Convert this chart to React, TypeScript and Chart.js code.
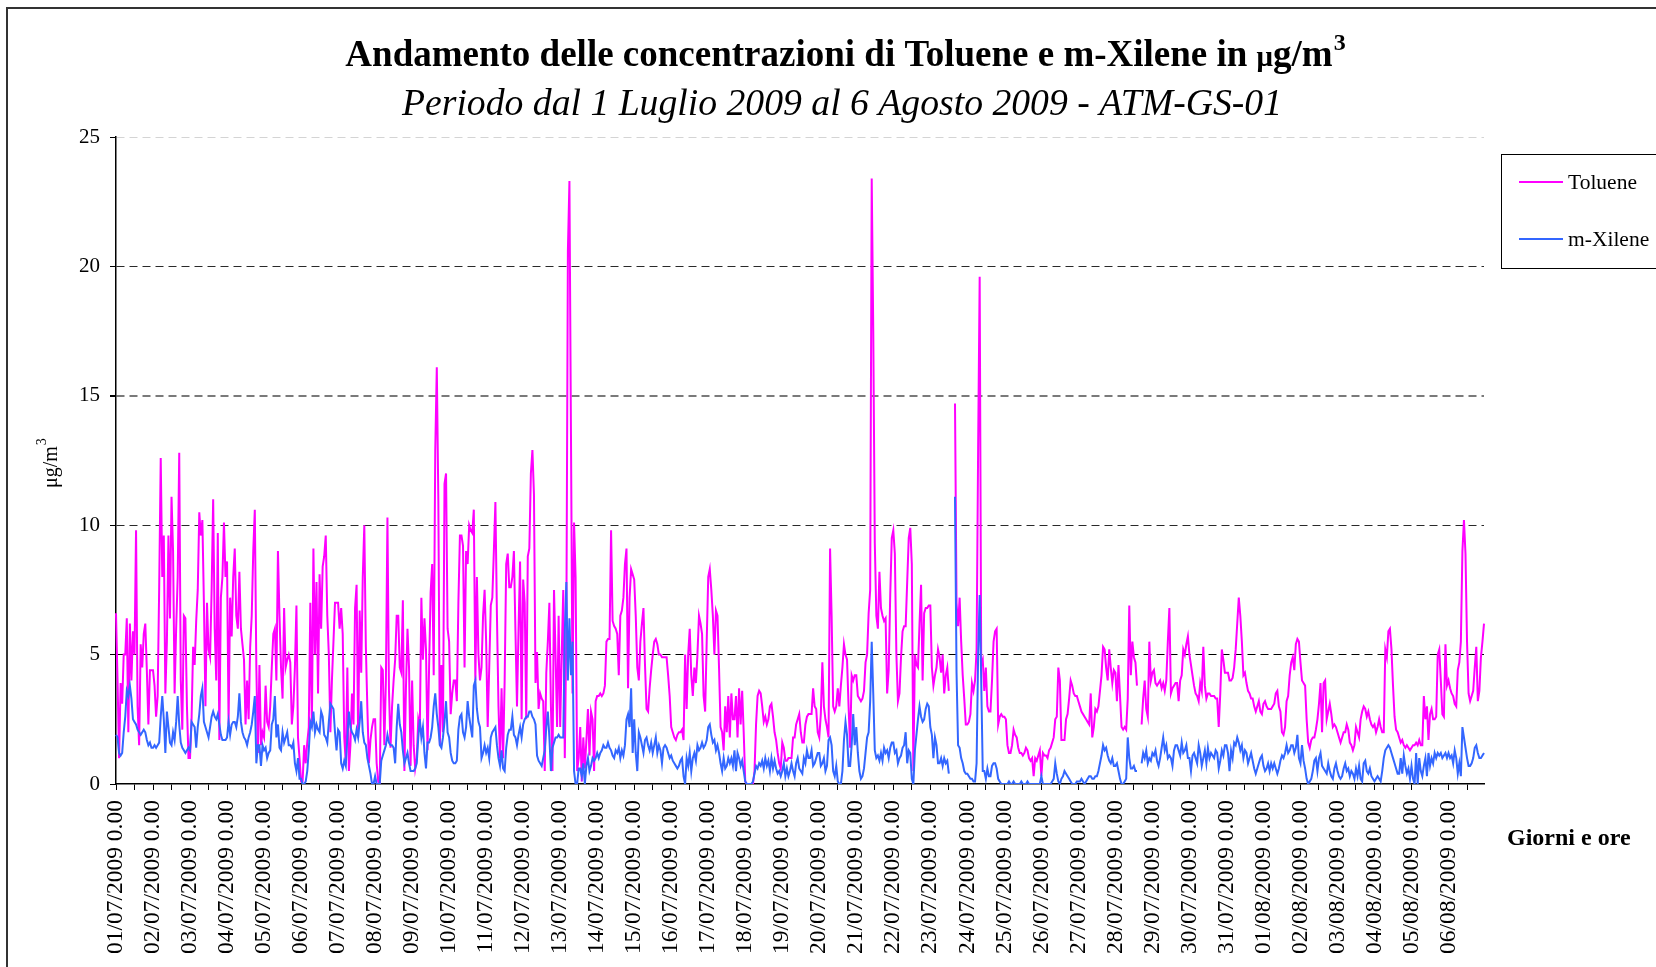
import React, { useEffect, useRef } from 'react';
import { Chart, registerables } from 'chart.js';

Chart.register(...registerables);

const SERIF = '"Times New Roman", "Liberation Serif", serif';

// Day tick labels (one label every 24 hourly categories)
const dayLabels = [
  '01/07/2009', '02/07/2009', '03/07/2009', '04/07/2009', '05/07/2009', '06/07/2009', '07/07/2009',
  '08/07/2009', '09/07/2009', '10/07/2009', '11/07/2009', '12/07/2009', '13/07/2009', '14/07/2009',
  '15/07/2009', '16/07/2009', '17/07/2009', '18/07/2009', '19/07/2009', '20/07/2009', '21/07/2009',
  '22/07/2009', '23/07/2009', '24/07/2009', '25/07/2009', '26/07/2009', '27/07/2009', '28/07/2009',
  '29/07/2009', '30/07/2009', '31/07/2009', '01/08/2009', '02/08/2009', '03/08/2009', '04/08/2009',
  '05/08/2009', '06/08/2009',
];
const hourLabels = [
  '0.00', '1.00', '2.00', '3.00', '4.00', '5.00', '6.00', '7.00', '8.00', '9.00', '10.00', '11.00',
  '12.00', '13.00', '14.00', '15.00', '16.00', '17.00', '18.00', '19.00', '20.00', '21.00', '22.00', '23.00',
];
const yTicks = [0, 5, 10, 15, 20, 25];

// Toluene, hourly (µg/m3), one array per day
const t0107 = [6.6, 4.0, 1.0, 3.9, 3.1, 5.0, 5.0, 6.4, 2.0, 6.2, 4.0, 5.9, 5.0, 9.8, 3.0, 1.5, 5.4, 4.5, 5.8, 6.2, 4.4, 2.3, 4.4, 4.4];
const t0207 = [4.4, 3.8, 2.6, 3.4, 7.6, 12.6, 8.0, 9.6, 3.5, 5.5, 9.6, 6.4, 11.1, 9.0, 3.5, 6.0, 8.0, 12.8, 4.0, 2.1, 6.5, 6.4, 3.0, 1.0];
const t0307 = [1.0, 2.5, 5.3, 4.6, 6.3, 7.5, 10.5, 9.6, 10.2, 7.0, 3.0, 7.0, 5.2, 4.9, 7.5, 11.0, 6.0, 4.0, 9.7, 1.7, 7.2, 8.0, 10.1, 8.0];
const t0407 = [8.6, 2.3, 7.2, 5.7, 8.0, 9.1, 6.5, 6.0, 8.2, 6.0, 5.4, 4.8, 2.3, 4.0, 2.5, 5.3, 6.5, 9.0, 10.6, 4.5, 1.2, 4.6, 1.5, 2.0];
const t0507 = [1.8, 3.8, 2.4, 2.2, 3.0, 4.5, 5.8, 6.0, 4.0, 9.0, 6.5, 4.5, 3.3, 6.8, 4.5, 4.8, 5.0, 4.7, 2.3, 3.0, 4.5, 6.9, 1.8, 1.0];
const t0607 = [0.1, 0.1, 1.5, 0.8, 1.6, 2.2, 7.0, 2.2, 9.1, 5.0, 7.8, 3.5, 8.1, 6.0, 8.4, 8.8, 9.6, 6.5, 5.0, 2.0, 4.0, 5.5, 7.0, 7.0];
const t0707 = [7.0, 6.0, 6.8, 5.8, 1.8, 0.8, 4.5, 0.5, 1.5, 3.5, 2.3, 6.8, 7.7, 1.8, 6.7, 4.3, 8.0, 10.0, 5.3, 2.9, 0.8, 1.7, 2.2, 2.5];
const t0807 = [2.5, 0.8, 0.1, 0.0, 4.5, 4.4, 1.5, 4.0, 10.3, 3.6, 1.4, 3.0, 4.0, 4.8, 6.5, 6.5, 4.5, 4.3, 7.1, 0.5, 3.7, 6.0, 4.5, 0.7];
const t0907 = [4.0, 1.5, 0.6, 1.0, 2.5, 2.2, 7.2, 4.8, 6.4, 5.2, 1.3, 4.5, 7.4, 8.5, 4.2, 12.9, 16.1, 11.0, 1.5, 4.6, 2.0, 11.6, 12.0, 6.0];
const t1007 = [5.5, 2.7, 3.5, 4.0, 4.0, 3.2, 7.0, 9.6, 9.6, 9.2, 4.5, 9.0, 8.5, 10.0, 9.8, 9.7, 10.6, 4.0, 8.0, 5.0, 4.0, 4.5, 6.5, 7.5];
const t1107 = [5.5, 2.2, 4.5, 6.9, 7.2, 9.0, 10.9, 6.5, 3.0, 1.0, 3.7, 1.0, 4.0, 8.5, 8.9, 7.6, 7.6, 8.0, 9.0, 5.9, 3.0, 6.0, 8.6, 2.5];
const t1207 = [7.9, 7.0, 2.5, 8.8, 9.1, 12.0, 12.9, 11.2, 3.9, 5.1, 2.9, 3.5, 3.3, 3.2, 0.5, 4.3, 5.5, 7.0, 3.0, 0.5, 7.5, 5.0, 2.2, 6.5];
const t1307 = [2.2, 5.0, 7.5, 1.0, 6.0, 20.6, 23.3, 13.5, 3.5, 10.1, 8.0, 0.5, 1.0, 2.2, 0.1, 1.8, 0.6, 1.7, 2.9, 1.1, 2.8, 2.5, 0.5, 3.2];
const t1407 = [3.4, 3.4, 3.5, 3.4, 3.5, 3.8, 5.5, 5.6, 5.6, 9.8, 6.3, 6.1, 6.0, 5.8, 4.2, 6.5, 6.7, 7.2, 8.5, 9.1, 3.7, 7.2, 8.3, 8.1];
const t1507 = [7.9, 6.5, 4.5, 4.0, 5.5, 6.2, 6.8, 4.6, 2.9, 2.8, 3.7, 4.4, 5.0, 5.5, 5.6, 5.4, 5.0, 5.0, 4.9, 4.9, 4.9, 4.9, 4.2, 3.4];
const t1607 = [2.2, 2.0, 1.8, 1.7, 1.9, 2.0, 2.0, 2.1, 1.7, 5.0, 2.9, 5.0, 6.0, 4.2, 3.4, 4.5, 3.9, 5.0, 6.5, 6.2, 5.8, 3.4, 2.8, 5.5];
const t1707 = [8.0, 8.3, 7.5, 6.5, 5.0, 6.7, 6.5, 4.5, 2.2, 2.0, 1.3, 3.0, 2.0, 3.4, 1.8, 3.5, 2.5, 2.5, 3.4, 1.8, 3.7, 2.3, 3.6, 2.0];
const t1807 = [0.1, 0.0, 0.0, 0.0, 0.0, 0.0, 0.5, 2.3, 3.4, 3.6, 3.5, 3.0, 2.4, 2.6, 2.3, 2.5, 3.0, 3.1, 2.6, 2.0, 1.7, 1.2, 0.8, 0.6];
const t1907 = [1.6, 1.4, 0.9, 0.9, 1.0, 1.0, 1.0, 1.8, 1.8, 2.3, 2.5, 2.7, 2.0, 1.6, 1.6, 2.3, 2.6, 2.7, 2.7, 2.7, 3.7, 3.0, 2.9, 2.0];
const t2007 = [1.8, 2.7, 4.7, 3.0, 2.5, 2.2, 1.8, 9.1, 6.5, 3.0, 2.8, 3.0, 3.7, 3.0, 3.8, 4.5, 5.4, 5.0, 4.8, 3.0, 1.4, 4.2, 4.0, 4.2];
const t2107 = [4.2, 3.4, 3.3, 3.2, 3.3, 3.6, 4.7, 5.0, 6.6, 7.5, 23.4, 17.5, 9.3, 6.5, 6.0, 8.2, 6.8, 6.5, 6.3, 6.4, 3.5, 4.4, 7.3, 9.5];
const t2207 = [9.8, 8.9, 5.0, 3.2, 3.5, 4.9, 5.9, 6.1, 6.1, 7.8, 9.5, 9.9, 8.5, 0.5, 5.0, 4.6, 4.5, 6.2, 7.7, 4.0, 6.6, 6.8, 6.8, 6.9];
const t2307 = [6.9, 4.5, 3.8, 4.2, 4.5, 5.2, 4.9, 4.3, 5.0, 3.5, 4.2, 4.5, 3.6, null, null, null, 14.7, 7.0, 6.1, 7.2, 5.5, 4.2, 3.3, 2.3];
const t2407 = [2.3, 2.4, 2.7, 3.9, 3.6, 4.0, 5.2, 13.0, 19.6, 4.6, 4.8, 3.6, 4.5, 3.0, 2.8, 2.8, 4.0, 5.5, 5.9, 6.0, 2.3, 2.6, 2.7, 2.6];
const t2507 = [2.6, 2.5, 1.5, 1.2, 1.2, 1.5, 2.1, 1.9, 1.8, 1.4, 1.2, 1.2, 1.1, 1.2, 1.4, 1.3, 1.0, 0.9, 1.0, 0.3, 1.0, 0.9, 1.1, 1.3];
const t2607 = [0.3, 1.2, 1.1, 1.1, 1.0, 1.3, 1.4, 1.6, 1.8, 2.5, 2.6, 4.5, 4.0, 1.7, 1.7, 1.7, 2.5, 2.7, 3.3, 4.0, 3.8, 3.5, 3.4, 3.4];
const t2707 = [3.2, 3.0, 2.8, 2.7, 2.6, 2.5, 2.4, 2.3, 3.5, 1.8, 2.2, 2.9, 2.8, 3.0, 3.6, 4.2, 5.3, 5.2, 4.5, 4.0, 5.2, 4.5, 3.9, 4.4];
const t2807 = [4.3, 3.2, 4.6, 3.4, 2.2, 2.1, 2.2, 2.1, 3.3, 6.9, 4.2, 5.5, 4.9, 4.7, 3.8, null, null, 2.3, 3.3, 4.0, 2.9, 2.6, 5.5, 4.0];
const t2907 = [4.3, 4.4, 3.9, 3.8, 3.9, 4.0, 3.7, 3.9, 3.6, 4.0, 5.5, 6.8, 3.5, 3.7, 3.8, 3.9, 3.9, 3.2, 4.0, 4.2, 5.2, 5.0, 5.4, 5.7];
const t3007 = [5.0, 4.6, 4.2, 3.8, 3.5, 3.4, 3.2, 3.9, 3.6, 5.3, 3.8, 3.3, 3.5, 3.5, 3.4, 3.4, 3.4, 3.3, 3.3, 2.2, 3.5, 5.2, 4.8, 4.3];
const t3107 = [4.3, 4.3, 4.0, 4.0, 4.1, 4.5, 5.2, 6.2, 7.2, 6.5, 5.5, 4.2, 4.3, 3.9, 3.6, 3.5, 3.3, 3.3, 3.0, 2.8, 3.0, 3.2, 2.8, 2.7];
const t0108 = [3.1, 3.2, 3.0, 2.9, 2.9, 2.9, 3.0, 3.1, 3.5, 3.6, 3.0, 2.8, 2.0, 1.9, 2.2, 3.2, 3.4, 4.2, 4.7, 4.9, 4.4, 5.4, 5.6, 5.5];
const t0208 = [4.7, 4.0, 3.9, 3.8, 2.5, 1.6, 1.4, 1.7, 1.8, 1.8, 2.1, 2.5, 3.1, 3.9, 2.0, 3.9, 4.0, 2.5, 2.8, 3.1, 2.7, 2.2, 2.3, 2.2];
const t0308 = [2.0, 1.8, 1.6, 1.8, 2.0, 2.0, 2.3, 2.1, 1.6, 1.5, 1.3, 1.5, 2.2, 2.0, 1.8, 2.5, 2.8, 3.0, 2.9, 2.6, 2.8, 2.5, 2.3, 2.2];
const t0408 = [2.3, 2.0, 2.2, 2.5, 2.2, 2.0, 2.0, 5.2, 4.9, 5.9, 6.0, 5.2, 3.8, 2.6, 2.1, 2.0, 1.8, 1.6, 1.7, 1.5, 1.4, 1.5, 1.4, 1.3];
const t0508 = [1.4, 1.5, 1.5, 1.6, 1.5, 1.7, 1.5, 1.5, 3.4, 2.5, 3.0, 1.7, 2.7, 2.9, 2.5, 2.5, 2.6, 5.0, 5.2, 4.0, 2.7, 2.6, 5.4, 3.8];
const t0608 = [4.0, 3.7, 3.5, 3.4, 3.1, 3.0, 4.4, 4.7, 5.5, 9.0, 10.2, 8.9, 5.5, 3.5, 3.2, 3.4, 3.6, 4.5, 5.3, 3.2, 3.6, 4.9, 5.5, 6.2];

// m-Xilene, hourly (µg/m3), one array per day
const x0107 = [1.9, 1.8, 1.2, 1.1, 1.2, 2.0, 2.6, 3.6, 3.4, 3.8, 3.3, 2.5, 2.4, 2.3, 2.1, 2.0, 1.9, 2.0, 2.1, 2.0, 1.7, 1.5, 1.6, 1.4];
const x0207 = [1.4, 1.5, 1.4, 1.5, 1.6, 2.6, 3.4, 2.5, 1.2, 2.8, 2.2, 1.6, 1.5, 2.0, 1.7, 2.4, 3.4, 2.3, 1.6, 1.4, 1.3, 1.2, 1.3, 1.4];
const x0307 = [1.3, 2.4, 2.3, 2.2, 1.4, 2.2, 2.7, 3.4, 3.7, 2.4, 2.2, 2.0, 1.8, 2.2, 2.6, 2.8, 2.6, 2.5, 2.7, 2.3, 1.9, 1.7, 1.7, 1.7];
const x0407 = [1.8, 2.4, 1.9, 2.3, 2.4, 2.4, 2.2, 2.6, 3.5, 2.4, 2.0, 1.8, 1.7, 1.5, 1.8, 2.0, 2.3, 2.8, 3.4, 0.8, 1.5, 1.5, 0.7, 1.5];
const x0507 = [1.3, 1.4, 1.0, 1.2, 1.3, 2.3, 2.5, 3.4, 1.8, 2.3, 1.4, 1.3, 2.0, 1.6, 1.8, 2.0, 1.5, 1.5, 1.4, 1.6, 0.8, 0.5, 1.0, 0.2];
const x0607 = [0.2, 0.0, 0.0, 0.1, 0.5, 1.3, 2.4, 2.2, 2.8, 2.0, 2.3, 2.1, 2.0, 2.8, 2.6, 1.9, 1.8, 1.6, 2.4, 3.1, 3.0, 2.9, 2.0, 1.3];
const x0707 = [2.1, 2.0, 0.8, 0.6, 0.9, 0.7, 1.8, 2.8, 2.2, 2.0, 1.9, 1.7, 2.1, 1.8, 2.4, 3.2, 2.0, 1.6, 1.5, 1.0, 0.7, 0.4, 0.0, 0.0];
const x0807 = [0.3, 0.0, 0.0, 0.0, 0.9, 1.1, 1.3, 1.5, 1.9, 1.6, 1.5, 1.5, 1.4, 0.8, 2.2, 3.1, 2.3, 2.0, 1.3, 0.8, 1.0, 1.2, 0.8, 0.5];
const x0907 = [0.5, 0.5, 0.6, 0.8, 1.8, 2.5, 1.8, 2.2, 1.2, 0.6, 1.6, 1.6, 1.8, 2.2, 3.0, 3.5, 2.7, 2.2, 1.5, 1.4, 1.8, 2.4, 3.2, 2.0];
const x1007 = [1.8, 1.2, 0.9, 0.8, 0.8, 0.9, 2.1, 2.6, 2.7, 2.0, 1.8, 2.2, 3.2, 2.6, 2.2, 1.8, 3.8, 4.0, 2.9, 2.4, 2.2, 1.0, 1.2, 1.5];
const x1107 = [1.2, 1.4, 1.0, 1.8, 2.0, 2.1, 2.2, 1.5, 1.0, 0.7, 1.3, 0.6, 0.5, 1.4, 1.9, 2.1, 2.1, 2.6, 1.9, 1.8, 1.5, 1.9, 2.2, 1.8];
const x1207 = [2.3, 2.5, 2.6, 2.6, 2.8, 2.8, 2.6, 2.5, 2.3, 1.1, 0.9, 0.8, 0.7, 1.0, 1.3, 2.2, 2.8, 1.8, 0.5, 1.4, 1.6, 1.8, 1.8, 1.9];
const x1307 = [1.8, 1.8, 1.8, 5.9, 7.8, 4.0, 6.4, 4.2, 5.5, 0.5, 0.0, 0.0, 0.6, 0.6, 0.3, 0.8, 0.0, 0.7, 1.0, 0.5, 0.7, 1.0, 0.9, 1.0];
const x1407 = [1.2, 1.0, 1.2, 1.3, 1.5, 1.4, 1.4, 1.6, 1.4, 1.3, 1.1, 1.0, 1.3, 1.2, 1.4, 1.0, 1.3, 1.1, 1.5, 2.5, 2.7, 2.2, 3.7, 1.2];
const x1507 = [2.5, 1.2, 0.5, 2.0, 1.8, 1.5, 1.2, 1.7, 1.8, 1.5, 1.3, 1.6, 1.2, 1.5, 1.8, 1.2, 1.5, 1.3, 0.8, 1.4, 1.5, 1.4, 1.2, 1.0];
const x1607 = [1.1, 0.9, 0.8, 0.7, 0.6, 0.7, 0.9, 1.0, 0.3, 0.0, 1.0, 0.7, 1.2, 0.5, 1.0, 1.2, 0.9, 1.5, 1.3, 1.4, 1.6, 1.4, 1.5, 1.7];
const x1707 = [2.2, 2.3, 1.9, 1.6, 1.7, 1.3, 1.5, 1.2, 0.8, 0.5, 1.0, 0.6, 0.7, 1.0, 0.8, 1.0, 0.7, 1.3, 0.5, 1.2, 1.0, 0.7, 0.9, 0.5];
const x1807 = [0.1, 0.0, 0.0, 0.0, 0.0, 0.1, 0.4, 0.7, 0.6, 0.8, 0.7, 0.9, 0.6, 1.0, 0.7, 0.9, 0.5, 1.0, 0.6, 0.9, 0.6, 0.4, 0.5, 0.3];
const x1907 = [0.5, 0.8, 0.3, 0.6, 0.3, 0.5, 0.8, 0.5, 0.3, 0.8, 1.0, 0.6, 0.5, 0.4, 1.0, 0.8, 1.3, 1.0, 1.0, 1.3, 0.7, 0.8, 1.0, 1.2];
const x2007 = [1.2, 0.7, 0.8, 1.0, 0.5, 0.7, 1.7, 1.8, 1.5, 0.5, 0.3, 0.7, 0.1, 0.0, 0.0, 0.5, 1.7, 2.4, 1.9, 0.7, 0.7, 1.5, 2.7, 1.5];
const x2107 = [2.2, 1.2, 0.5, 0.2, 0.3, 0.6, 1.2, 1.8, 2.0, 3.2, 5.5, 3.5, 1.3, 1.0, 1.1, 0.9, 1.2, 0.9, 1.4, 1.2, 1.3, 1.0, 1.4, 1.6];
const x2207 = [1.6, 1.2, 1.3, 0.8, 1.0, 1.1, 1.4, 1.5, 2.0, 0.8, 1.3, 1.2, 0.2, 0.0, 1.3, 1.9, 2.5, 3.0, 2.6, 2.4, 2.5, 2.9, 3.1, 3.0];
const x2307 = [2.2, 1.9, 1.0, 1.8, 1.5, 0.8, 0.8, 1.0, 0.7, 1.0, 0.8, 0.9, 0.4, null, null, null, 11.1, 4.3, 1.5, 1.4, 1.0, 0.8, 0.5, 0.4];
const x2407 = [0.4, 0.3, 0.2, 0.2, 0.1, 0.1, 0.8, 5.0, 7.3, 4.0, 0.5, 0.5, 0.2, 0.6, 0.3, 0.3, 0.7, 0.8, 0.8, 0.6, 0.2, 0.1, 0.0, 0.0];
const x2507 = [0.0, 0.0, 0.0, 0.1, 0.0, 0.0, 0.1, 0.0, 0.0, 0.0, 0.0, 0.1, 0.0, 0.0, 0.0, 0.1, 0.0, 0.0, 0.0, 0.0, 0.0, 0.0, 0.0, 0.0];
const x2607 = [0.3, 0.0, 0.0, 0.0, 0.0, 0.0, 0.0, 0.1, 0.2, 0.8, 0.4, 0.1, 0.0, 0.2, 0.3, 0.5, 0.4, 0.3, 0.2, 0.1, 0.0, 0.0, 0.0, 0.1];
const x2707 = [0.1, 0.1, 0.2, 0.1, 0.0, 0.1, 0.2, 0.3, 0.3, 0.2, 0.2, 0.3, 0.3, 0.5, 0.8, 1.1, 1.5, 1.3, 1.4, 1.1, 0.9, 0.8, 1.0, 0.7];
const x2807 = [0.7, 0.8, 0.5, 0.2, 0.0, 0.0, 0.1, 0.2, 1.8, 1.0, 0.6, 0.6, 0.7, 0.5, 0.5, null, null, 0.8, 1.2, 1.0, 1.3, 0.8, 1.0, 0.9];
const x2907 = [1.2, 1.1, 1.3, 0.9, 0.7, 1.0, 1.4, 1.8, 1.3, 1.5, 1.0, 1.1, 1.0, 0.7, 1.3, 1.5, 1.5, 1.3, 1.1, 1.6, 1.2, 1.3, 1.5, 1.0];
const x3007 = [1.0, 0.5, 1.1, 1.2, 1.0, 0.8, 1.5, 1.2, 0.7, 1.0, 1.3, 0.8, 1.4, 1.0, 1.2, 1.1, 1.0, 1.3, 1.2, 0.6, 0.9, 1.3, 1.1, 1.5];
const x3107 = [1.5, 1.2, 0.5, 1.3, 1.0, 1.6, 1.5, 1.8, 1.6, 1.3, 1.5, 1.0, 1.3, 1.2, 0.8, 1.0, 1.2, 0.9, 0.6, 0.4, 0.6, 0.8, 1.0, 1.1];
const x0108 = [0.7, 0.5, 0.6, 0.8, 0.5, 0.8, 0.6, 0.8, 0.6, 0.4, 0.6, 0.9, 1.1, 1.0, 1.2, 1.5, 1.2, 1.3, 1.5, 1.5, 1.2, 1.4, 1.9, 1.0];
const x0208 = [0.8, 1.5, 0.9, 0.6, 0.2, 0.0, 0.1, 0.2, 0.5, 0.9, 1.0, 0.5, 1.0, 1.2, 0.7, 0.6, 0.5, 0.4, 0.8, 0.5, 0.3, 0.2, 0.6, 0.8];
const x0308 = [0.5, 0.3, 0.2, 0.3, 0.6, 0.8, 0.5, 0.6, 0.3, 0.5, 0.4, 0.2, 0.6, 0.3, 0.7, 0.2, 0.1, 0.8, 0.9, 0.5, 0.4, 0.6, 0.3, 0.2];
const x0408 = [0.1, 0.2, 0.3, 0.2, 0.1, 0.5, 1.0, 1.3, 1.4, 1.5, 1.4, 1.2, 1.0, 0.8, 0.6, 0.4, 0.4, 1.0, 0.4, 1.1, 0.7, 0.4, 0.6, 0.2];
const x0508 = [0.7, 0.2, 0.0, 1.2, 0.0, 1.0, 0.5, 0.3, 0.7, 1.0, 0.3, 1.2, 0.7, 1.0, 0.8, 1.2, 1.0, 1.2, 1.1, 1.2, 1.0, 1.1, 1.2, 1.0];
const x0608 = [1.2, 1.0, 1.1, 0.8, 1.3, 1.0, 0.4, 0.8, 0.3, 2.2, 1.8, 1.4, 1.0, 0.7, 0.7, 0.8, 1.0, 1.4, 1.5, 1.2, 1.0, 1.0, 1.1, 1.2];

const toluene: (number | null)[] = [
  t0107, t0207, t0307, t0407, t0507, t0607, t0707, t0807, t0907, t1007, t1107, t1207, t1307,
  t1407, t1507, t1607, t1707, t1807, t1907, t2007, t2107, t2207, t2307, t2407, t2507, t2607,
  t2707, t2807, t2907, t3007, t3107, t0108, t0208, t0308, t0408, t0508, t0608,
].flat();
const xilene: (number | null)[] = [
  x0107, x0207, x0307, x0407, x0507, x0607, x0707, x0807, x0907, x1007, x1107, x1207, x1307,
  x1407, x1507, x1607, x1707, x1807, x1907, x2007, x2107, x2207, x2307, x2407, x2507, x2607,
  x2707, x2807, x2907, x3007, x3107, x0108, x0208, x0308, x0408, x0508, x0608,
].flat();

const categories = dayLabels.flatMap((d) => hourLabels.map((h) => `${d} ${h}`));

const TOLUENE_COLOR = '#FF00FF';
const XILENE_COLOR = '#3366FF';

const decorPlugin = {
  id: 'decor',
  afterDraw(chart: any) {
    const ctx: CanvasRenderingContext2D = chart.ctx;
    ctx.save();
    // outer chart frame
    ctx.strokeStyle = '#333';
    ctx.lineWidth = 2;
    ctx.strokeRect(7, 8, 3000, 3000);

    ctx.fillStyle = '#000';
    ctx.textBaseline = 'alphabetic';
    ctx.textAlign = 'left';

    // title
    const tMain = 'Andamento delle concentrazioni di Toluene e m-Xilene in ';
    const fMain = `bold 37px ${SERIF}`;
    const fMu = `bold 29px ${SERIF}`;
    const fSup = `bold 24px ${SERIF}`;
    ctx.font = fMain;
    const w1 = ctx.measureText(tMain).width;
    const w3 = ctx.measureText('g/m').width;
    ctx.font = fMu;
    const w2 = ctx.measureText('μ').width;
    ctx.font = fSup;
    const w4 = ctx.measureText('3').width;
    const total = w1 + w2 + w3 + w4;
    let x = 845 - total / 2;
    const base = 65.5;
    ctx.font = fMain;
    ctx.fillText(tMain, x, base);
    x += w1;
    ctx.font = fMu;
    ctx.fillText('μ', x, base);
    x += w2;
    ctx.font = fMain;
    ctx.fillText('g/m', x, base);
    x += w3;
    ctx.font = fSup;
    ctx.fillText('3', x + 1, base - 16);

    // subtitle
    ctx.font = `italic 37.7px ${SERIF}`;
    ctx.textAlign = 'center';
    ctx.fillText('Periodo dal 1 Luglio 2009 al 6 Agosto 2009 - ATM-GS-01', 842, 115);

    // y-axis title
    ctx.save();
    ctx.translate(57, 488);
    ctx.rotate(-Math.PI / 2);
    ctx.textAlign = 'left';
    ctx.font = `20px ${SERIF}`;
    ctx.fillText('μg/m', 0, 0);
    const wy = ctx.measureText('μg/m').width;
    ctx.font = `14px ${SERIF}`;
    ctx.fillText('3', wy + 1, -11);
    ctx.restore();

    // x-axis title
    ctx.textAlign = 'left';
    ctx.font = `bold 24px ${SERIF}`;
    ctx.fillText('Giorni e ore', 1507, 845);

    // legend
    ctx.strokeStyle = '#000';
    ctx.lineWidth = 1;
    ctx.strokeRect(1501.5, 154.5, 300, 114);
    const items = [
      { label: 'Toluene', color: TOLUENE_COLOR, y: 182 },
      { label: 'm-Xilene', color: XILENE_COLOR, y: 239 },
    ];
    ctx.font = `21.5px ${SERIF}`;
    ctx.textBaseline = 'middle';
    for (const it of items) {
      ctx.strokeStyle = it.color;
      ctx.lineWidth = 2;
      ctx.beginPath();
      ctx.moveTo(1519, it.y);
      ctx.lineTo(1563, it.y);
      ctx.stroke();
      ctx.fillStyle = '#000';
      ctx.fillText(it.label, 1568, it.y + 1);
    }
    ctx.restore();
  },
};

function gridColor(v: number): string {
  if (v === 0) return 'rgba(0,0,0,0)';
  if (v === 25) return '#d4d4d4';
  if (v === 15) return '#7a7a7a';
  if (v === 5) return '#000';
  return '#2a2a2a';
}

export default function App() {
  const ref = useRef<HTMLCanvasElement>(null);

  useEffect(() => {
    if (!ref.current) return;
    const chart = new Chart(ref.current, {
      type: 'line',
      data: {
        labels: categories,
        datasets: [
          {
            label: 'Toluene',
            data: toluene,
            borderColor: TOLUENE_COLOR,
            backgroundColor: TOLUENE_COLOR,
            borderWidth: 2,
            pointRadius: 0,
            tension: 0,
            spanGaps: false,
            order: 1,
          },
          {
            label: 'm-Xilene',
            data: xilene,
            borderColor: XILENE_COLOR,
            backgroundColor: XILENE_COLOR,
            borderWidth: 2,
            pointRadius: 0,
            tension: 0,
            spanGaps: false,
            order: 0,
          },
        ],
      },
      options: {
        responsive: false,
        animation: false,
        devicePixelRatio: 1,
        events: [],
        layout: { padding: { top: 137, right: 172, left: 0, bottom: 0 } },
        plugins: {
          legend: { display: false },
          title: { display: false },
          tooltip: { enabled: false },
        },
        scales: {
          x: {
            type: 'category',
            offset: false,
            grid: {
              display: true,
              drawOnChartArea: false,
              drawTicks: true,
              tickLength: 6,
              lineWidth: 1,
              color: (c: any) => (c.index % 12 === 0 ? '#000' : 'rgba(0,0,0,0)'),
            },
            border: { display: true, color: '#000', width: 1.5 },
            ticks: {
              autoSkip: false,
              maxRotation: 90,
              minRotation: 90,
              padding: 10,
              color: '#000',
              font: { family: SERIF, size: 23.5 },
              callback: (_v: any, i: number) => (i % 24 === 0 ? categories[i] : ''),
            },
            afterFit: (s: any) => {
              s.height = 183;
            },
          },
          y: {
            min: 0,
            max: 25,
            afterBuildTicks: (s: any) => {
              s.ticks = yTicks.map((v) => ({ value: v }));
            },
            ticks: {
              padding: 10,
              color: '#000',
              font: { family: SERIF, size: 21 },
            },
            grid: {
              drawTicks: true,
              tickLength: 6,
              tickColor: '#000',
              color: (c: any) => gridColor(c.tick ? c.tick.value : -1),
              lineWidth: (c: any) => (c.tick && c.tick.value === 15 ? 2 : 1),
            },
            border: { display: true, color: '#000', width: 1.5, dash: [8, 5] },
            afterFit: (s: any) => {
              s.width = 116;
            },
          },
        },
      },
      plugins: [decorPlugin],
    } as any);
    return () => chart.destroy();
  }, []);

  return (
    <div style={{ position: 'fixed', left: 0, top: 0, width: 1656, height: 967, background: '#fff' }}>
      <canvas ref={ref} width={1656} height={967} style={{ display: 'block', width: 1656, height: 967 }} />
    </div>
  );
}
